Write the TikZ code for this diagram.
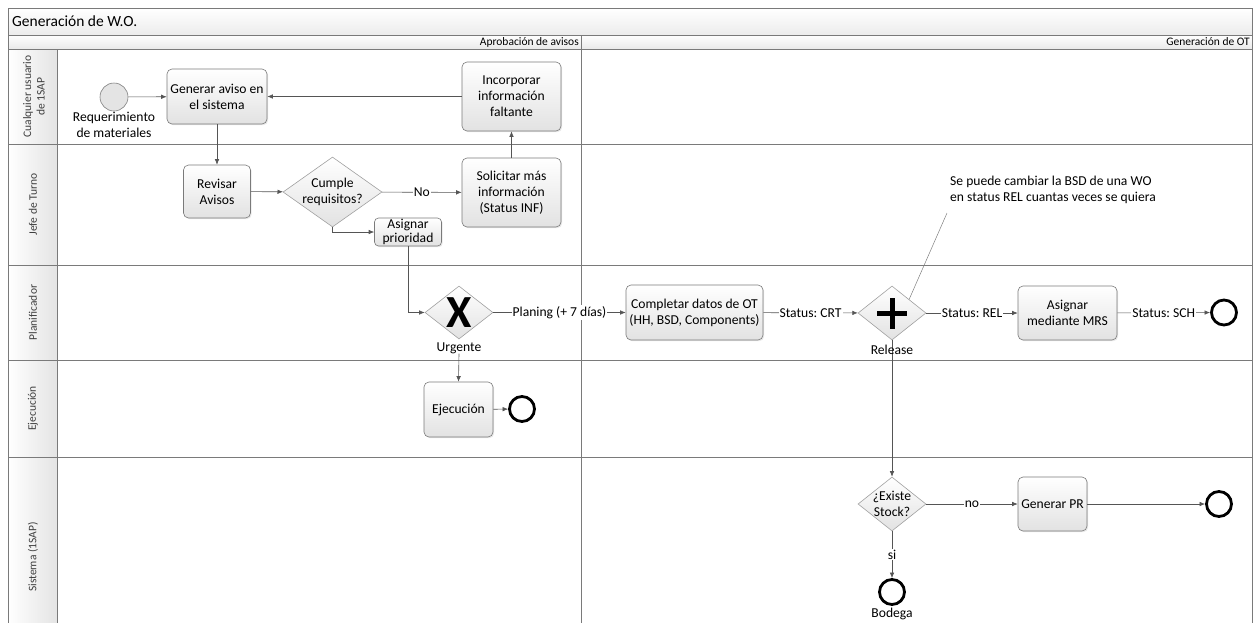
\documentclass[tikz,border=0pt]{standalone}
\usepackage{fontspec}
\setmainfont{Carlito}
\usetikzlibrary{arrows.meta,shapes.geometric,shadows}
\frenchspacing

\definecolor{framegray}{HTML}{7A7A7A}
\definecolor{arrowgray}{HTML}{555555}
\definecolor{lanetext}{HTML}{3F3F3F}
\definecolor{boxbot}{HTML}{E2E2E2}
\definecolor{gatebord}{HTML}{A0A0A0}
\definecolor{headgray}{HTML}{E4E4E4}

\begin{document}
\begin{tikzpicture}[x=1pt,y=-1pt,
  frame/.style={draw=framegray, line width=0.8pt},
  task/.style={draw=framegray, line width=0.6pt, rounded corners=5pt,
    top color=white, bottom color=boxbot, align=center, inner sep=1pt,
    font=\fontsize{13.6}{16}\selectfont,
    drop shadow={opacity=0.18, shadow xshift=1.2pt, shadow yshift=-1.2pt}},
  gate/.style={diamond, draw=gatebord, line width=0.6pt, inner sep=0pt,
    top color=white, bottom color=boxbot},
  gtext/.style={align=center, font=\fontsize{13.6}{16}\selectfont},
  startev/.style={circle, draw=gray, line width=0.6pt, fill=headgray, minimum size=28pt, inner sep=0pt},
  endev/.style={circle, draw=black, line width=2.8pt, fill=white, minimum size=25pt, inner sep=0pt},
  flow/.style={draw=arrowgray, line width=0.6pt, -{Latex[length=5.5pt,width=4.5pt]}},
  elab/.style={fill=white, inner sep=1pt, font=\fontsize{13.6}{16}\selectfont},
  lbl/.style={align=center, inner sep=0pt, font=\fontsize{13.6}{15.5}\selectfont},
  lanelab/.style={rotate=90, align=center, text=lanetext, font=\fontsize{11.5}{13.5}\selectfont},
  phaselab/.style={anchor=east, inner sep=0pt, text=black, font=\fontsize{11.5}{13}\selectfont},
  noteline/.style={draw=gray, line width=0.5pt}
]
\useasboundingbox (0,0) rectangle (1254,622);

% pool title and phase band
\path[frame, top color=white, bottom color=headgray!70] (8,8) rectangle (1252,35);
\node[anchor=west, inner sep=0pt, font=\fontsize{15.5}{18}\selectfont] (title) at (12,21.5) {Generación de W.O.};
\path[frame, top color=white, bottom color=headgray!80] (8,35) rectangle (1252,49);
\node[phaselab] (ph1) at (579,42) {Aprobación de avisos};
\node[phaselab] (ph2) at (1250,42) {Generación de OT};

% lane header column
\path[frame, left color=white, right color=headgray] (8,49) rectangle (57,640);
% lane body
\draw[frame] (57,49) rectangle (1252,640);
\foreach \yy in {144,265,360,457} \draw[frame] (8,\yy) -- (1252,\yy);
\draw[frame] (581,35) -- (581,640);

% lane names
\node[lanelab] (l1) at (34,96.5) {Cualquier usuario\\de 1SAP};
\node[lanelab] (l2) at (33,204.5) {Jefe de Turno};
\node[lanelab] (l3) at (33,312.5) {Planificador};
\node[lanelab] (l4) at (33,408.5) {Ejecución};
\node[lanelab] (l5) at (33,557) {Sistema (1SAP)};

% events, tasks and gateways
\node[startev] (start) at (114,97) {};
\node[lbl, anchor=north] (reqlab) at (114,112) {Requerimiento\\de materiales};

\node[task, minimum width=100pt, minimum height=55pt] (gen) at (217,96.5) {Generar aviso en\\el sistema};
\node[task, minimum width=99pt, minimum height=69pt] (inc) at (511.5,96.5) {Incorporar\\información\\faltante};
\node[task, minimum width=67pt, minimum height=53pt] (rev) at (217,191.5) {Revisar\\Avisos};
\node[gate, minimum width=99pt, minimum height=70pt,
      label={[gtext]center:Cumple\\requisitos?}] (cum) at (332.5,192) {};
\node[task, minimum width=99pt, minimum height=69pt] (sol) at (511.5,192.5) {Solicitar más\\información\\(Status INF)};
\node[task, minimum width=67pt, minimum height=28pt, inner sep=0pt,
      font=\fontsize{13.6}{13.8}\selectfont, rounded corners=4pt] (asig) at (408,232) {Asignar\\prioridad};

\node[gate, minimum width=68pt, minimum height=53pt] (xg) at (459,312.5) {};
\node[inner sep=0pt, font=\fontsize{46}{46}\selectfont\bfseries] (xmark) at (xg.center) {X};
\node[lbl] (urg) at (459,348) {Urgente};
\node[task, minimum width=69pt, minimum height=55pt] (eje) at (458.5,409.5) {Ejecución};
\node[endev] (end1) at (522,409) {};

\node[task, minimum width=137pt, minimum height=55pt] (comp) at (694.5,312.5) {Completar datos de OT\\(HH, BSD, Components)};
\node[gate, minimum width=68pt, minimum height=54pt] (pg) at (892,313) {};
\draw[line width=5pt] ([xshift=-15pt]pg.center) -- ([xshift=15pt]pg.center);
\draw[line width=5pt] ([yshift=-15.5pt]pg.center) -- ([yshift=15.5pt]pg.center);
\node[task, minimum width=99pt, minimum height=54pt] (mrs) at (1067.5,313) {Asignar\\mediante MRS};
\node[endev] (end2) at (1224,312.5) {};

\node[gate, minimum width=68pt, minimum height=54pt,
      label={[gtext]center:¿Existe\\Stock?}] (exi) at (892,504) {};
\node[task, minimum width=69pt, minimum height=54pt] (pr) at (1052.5,504) {Generar PR};
\node[endev] (end3) at (1219,504) {};
\node[endev] (bod) at (892,592) {};
\node[lbl] (bodlab) at (892,614) {Bodega};

% annotation
\node[anchor=north west, align=left, inner sep=0pt, font=\fontsize{13.6}{16}\selectfont] (note) at (950,176)
  {Se puede cambiar la BSD de una WO\\en status REL cuantas veces se quiera};
\coordinate (notept) at (947,213);
\draw[noteline] (pg.north east) -- (notept);

% sequence flows
\draw[flow] (start) -- (gen);
\draw[flow] (inc) -- (gen);
\draw[flow] (gen) -- (rev);
\draw[flow] (rev) -- (cum);
\draw[flow] (cum) -- node[elab]{No} (sol);
\draw[flow] (sol) -- (inc);
\draw[flow] (cum.south) |- (asig.west);
\draw[flow] (asig.south) |- (xg.west);
\draw[flow] (urg.south) -- (eje.north);
\draw[flow] (eje) -- (end1);
\draw[flow] (xg) -- node[elab]{Planing (+ 7 días)} (comp);
\draw[flow] (comp) -- node[elab]{Status: CRT} (pg);
\draw[flow] (pg) -- node[elab]{Status: REL} (mrs);
\draw[flow] (mrs) -- node[elab]{Status: SCH} (end2);
\draw[flow] (pg.south) -- (exi.north);
\node[lbl] (rellab) at (892,350) {Release};
\draw[flow] (exi) -- node[elab]{no} (pr);
\draw[flow] (pr) -- (end3);
\draw[flow] (exi.south) -- node[elab]{si} (bod);
\end{tikzpicture}
\end{document}
